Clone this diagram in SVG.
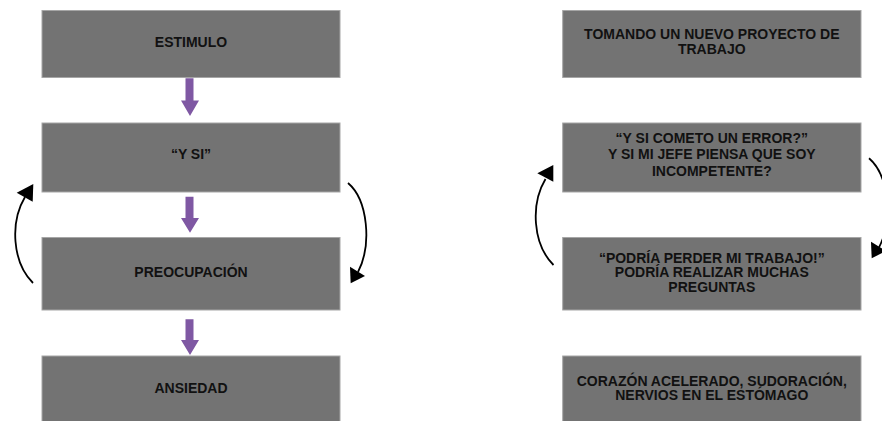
<svg xmlns="http://www.w3.org/2000/svg" width="882" height="421" viewBox="0 0 882 421">
<style>
.box{fill:#737373;stroke:#a6a6a6;stroke-width:1}
.t{font-family:"Liberation Sans",Arial,sans-serif;font-weight:bold;font-size:14px;fill:#111;text-anchor:middle}
.p{fill:#7f58a3}
.c{fill:none;stroke:#000;stroke-width:1.8}
.h{fill:#000}
</style>
<rect width="882" height="421" fill="#fff"/>
<g id="n-estimulo"><rect class="box" x="42" y="10.5" width="298" height="67"/><text class="t" x="191" y="46.7">ESTIMULO</text></g>
<g id="n-ysi"><rect class="box" x="42" y="123" width="298" height="69"/><text class="t" x="191" y="159.3">“Y SI”</text></g>
<g id="n-preocupacion"><rect class="box" x="42" y="237.5" width="298" height="72.5"/><text class="t" x="191" y="276.7">PREOCUPACIÓN</text></g>
<g id="n-ansiedad"><rect class="box" x="42" y="356" width="298" height="70"/><text class="t" x="191" y="392.7">ANSIEDAD</text></g>
<g id="n-tomando"><rect class="box" x="562.7" y="10.5" width="298.3" height="67"/><text class="t" x="711.8" y="39.3">TOMANDO UN NUEVO PROYECTO DE</text><text class="t" x="711.8" y="54">TRABAJO</text></g>
<g id="n-error"><rect class="box" x="562.7" y="123" width="298.3" height="69"/><text class="t" x="711.8" y="142.7">“Y SI COMETO UN ERROR?”</text><text class="t" x="711.8" y="159.3">Y SI MI JEFE PIENSA QUE SOY</text><text class="t" x="711.8" y="176">INCOMPETENTE?</text></g>
<g id="n-perder"><rect class="box" x="562.7" y="237.5" width="298.3" height="72.5"/><text class="t" x="711.8" y="262.7">“PODRÍA PERDER MI TRABAJO!”</text><text class="t" x="711.8" y="277.3">PODRÍA REALIZAR MUCHAS</text><text class="t" x="711.8" y="292.3">PREGUNTAS</text></g>
<g id="n-corazon"><rect class="box" x="562.7" y="356" width="298.3" height="70"/><text class="t" x="711.8" y="385.7">CORAZÓN ACELERADO, SUDORACIÓN,</text><text class="t" x="711.8" y="400">NERVIOS EN EL ESTÓMAGO</text></g>
<g id="connectors">
<polygon class="p" points="185.5,78.3 193.5,78.3 193.5,100.5 199,100.5 190,116 181,100.5 185.5,100.5"/>
<polygon class="p" points="185.5,196.7 193.5,196.7 193.5,218 199,218 190,232.7 181,218 185.5,218"/>
<polygon class="p" points="185.5,319.3 193.5,319.3 193.5,340 199,340 190,355 181,340 185.5,340"/>
<g id="loop-left">
<path class="c" d="M33,283 C12,262 10,222 25,197"/>
<polygon class="h" points="16.7,192.7 33.3,184 32.7,201.7"/>
<path class="c" d="M348,183 C368,200 372,245 358,272"/>
<polygon class="h" points="350,266.7 365,276 350.7,283.3"/>
</g>
<g id="loop-right">
<path class="c" d="M553.5,265 C532.5,244 530.5,204 545.5,179"/>
<polygon class="h" points="537.3,173.3 553.3,165 553.3,181.7"/>
<path class="c" d="M869,158.3 C889,175.3 893,220.3 879,247.3"/>
<polygon class="h" points="871,241.7 886,251 871.7,258.3"/>
</g>
</g>
</svg>
